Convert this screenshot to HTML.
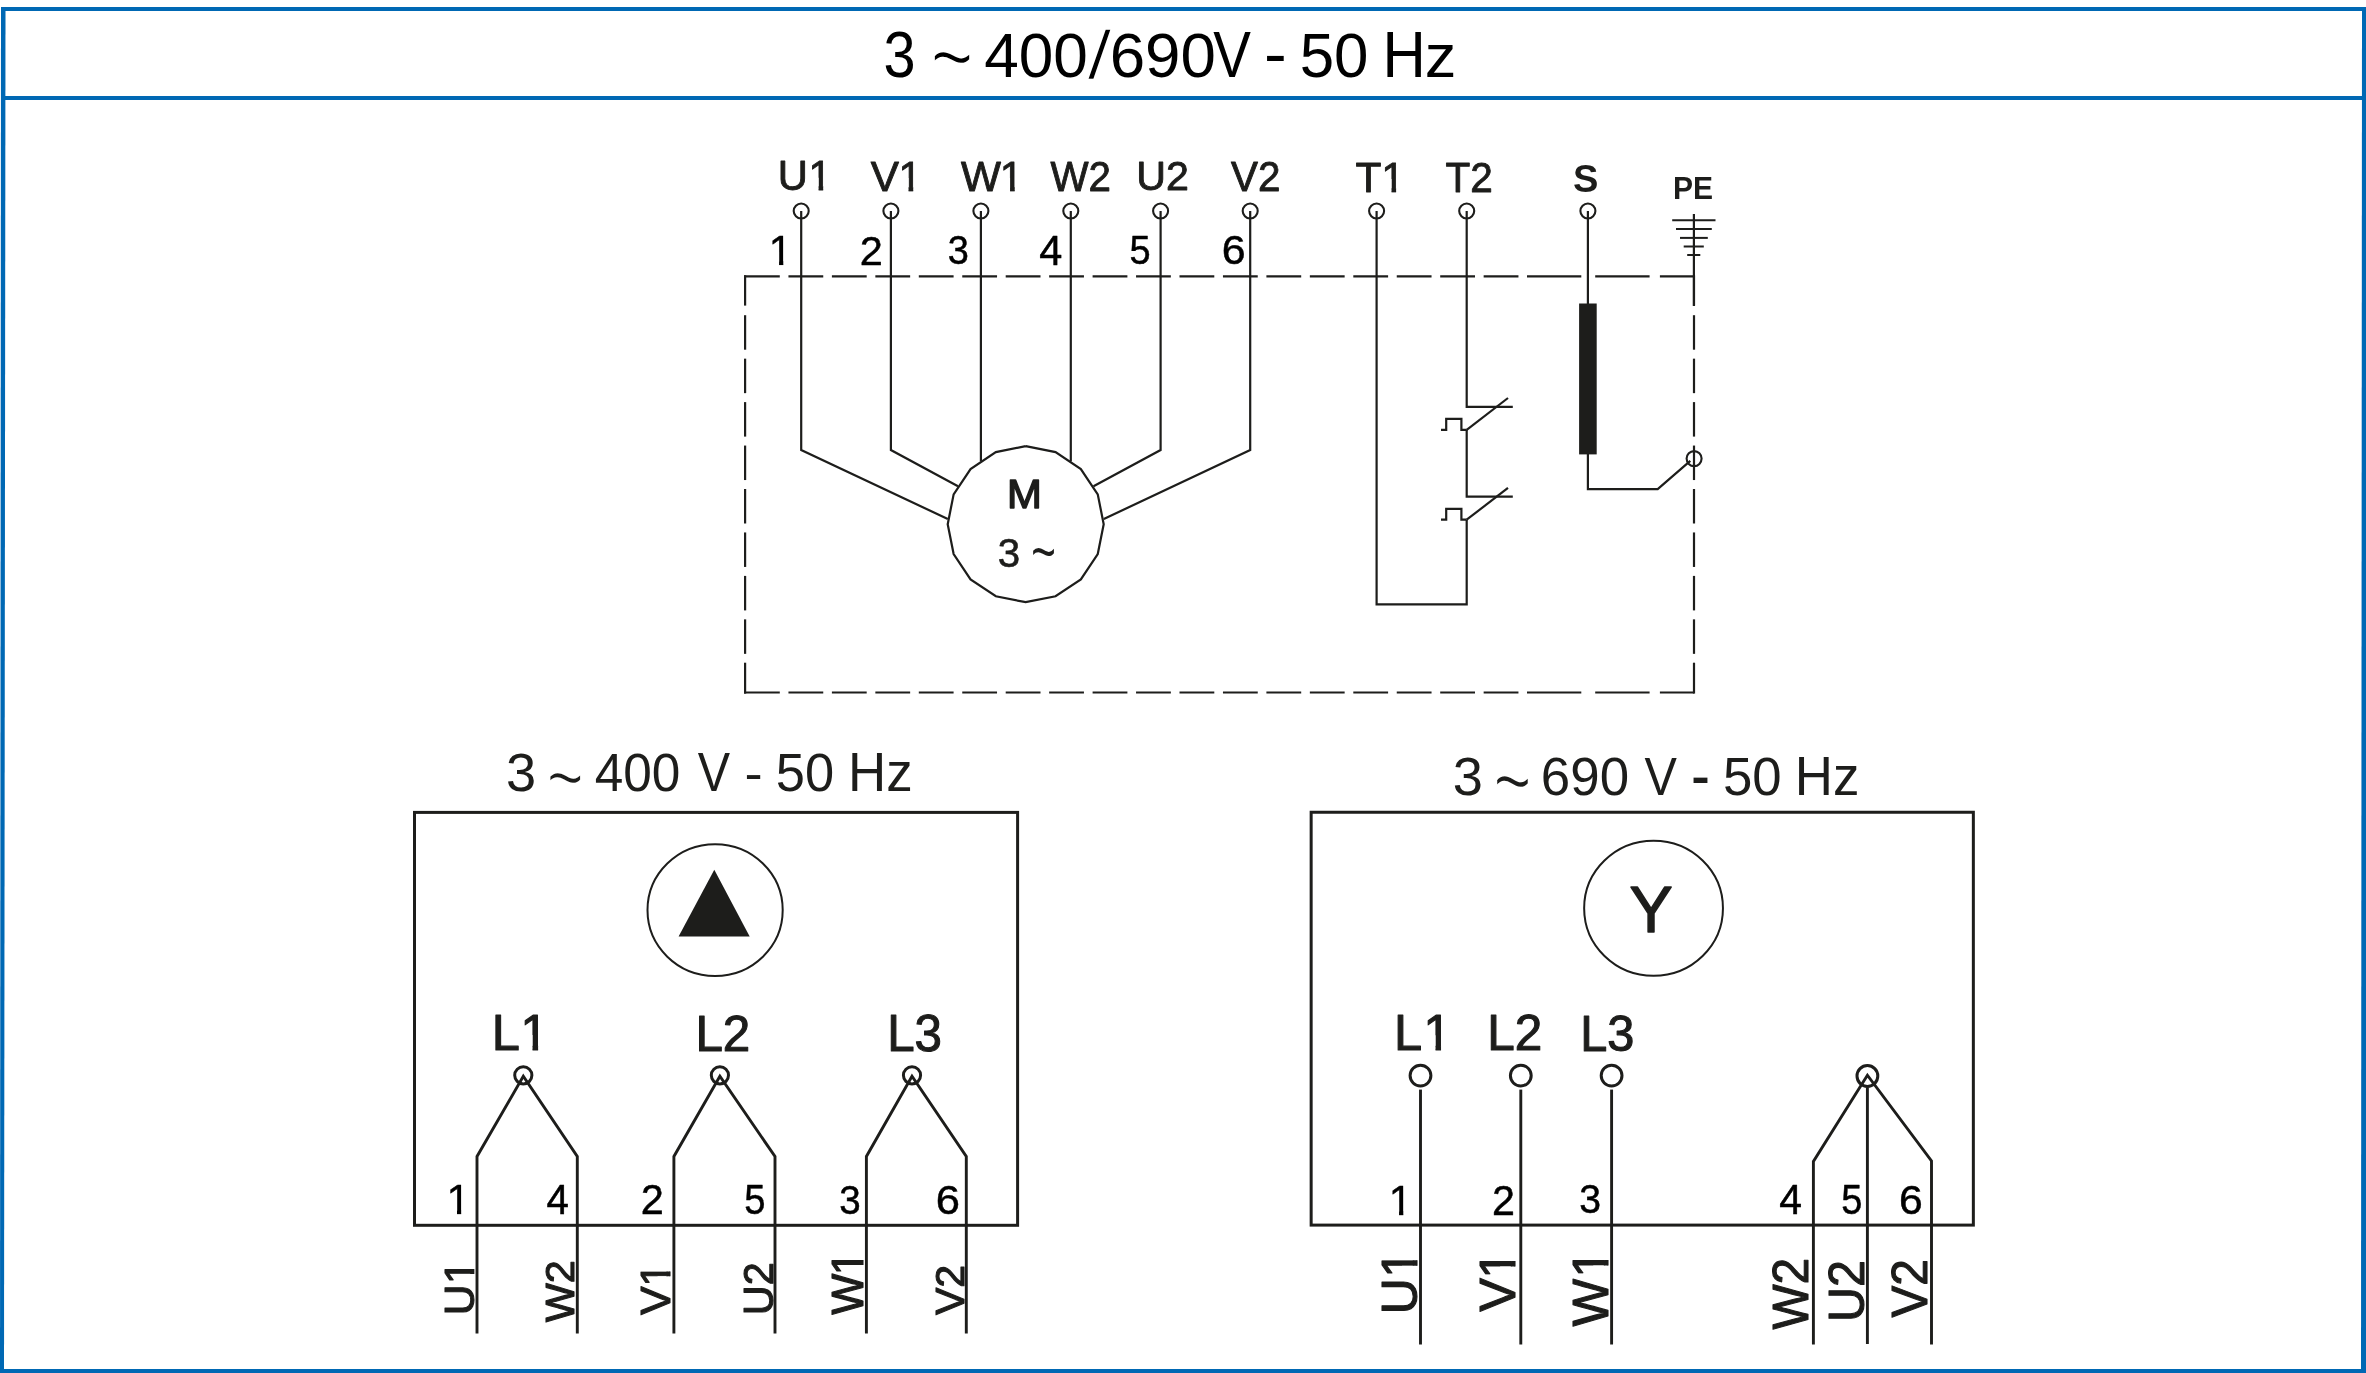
<!DOCTYPE html>
<html><head><meta charset="utf-8"><title>Wiring diagram 3~400/690V 50Hz</title>
<style>html,body{margin:0;padding:0;background:#fff;width:2366px;height:1373px;overflow:hidden}svg{display:block;will-change:transform}text{font-family:"Liberation Sans",sans-serif}</style>
</head><body>
<svg width="2366" height="1373" viewBox="0 0 2366 1373">
<defs><clipPath id="c1"><rect x="37.76" y="-31.28" width="4.59" height="32.28"/><rect x="30.74" y="-31.28" width="11.61" height="18.77"/></clipPath><clipPath id="c2"><rect x="37.51" y="-31.72" width="4.64" height="32.72"/><rect x="30.39" y="-31.72" width="11.76" height="19.03"/></clipPath><clipPath id="c3"><rect x="48.91" y="-31.72" width="4.64" height="32.72"/><rect x="41.79" y="-31.72" width="11.76" height="19.03"/></clipPath><clipPath id="c4"><rect x="35.10" y="-31.83" width="4.65" height="32.83"/><rect x="27.96" y="-31.83" width="11.79" height="19.10"/></clipPath><clipPath id="c5"><rect x="6.12" y="-31.61" width="4.23" height="32.61"/><rect x="-1.17" y="-31.61" width="11.52" height="18.97"/></clipPath><clipPath id="c6"><rect x="36.58" y="-37.94" width="5.57" height="38.94"/><rect x="28.28" y="-37.94" width="13.87" height="22.76"/></clipPath><clipPath id="c7"><rect x="7.43" y="-32.38" width="4.32" height="33.38"/><rect x="-0.02" y="-32.38" width="11.77" height="19.43"/></clipPath><clipPath id="c8"><rect x="37.99" y="-31.92" width="4.86" height="32.92"/><rect x="30.93" y="-31.92" width="11.92" height="19.15"/></clipPath><clipPath id="c9"><rect x="38.56" y="-32.16" width="4.89" height="33.16"/><rect x="31.45" y="-32.16" width="12.00" height="19.30"/></clipPath><clipPath id="c10"><rect x="49.61" y="-32.59" width="4.94" height="33.59"/><rect x="42.41" y="-32.59" width="12.14" height="19.56"/></clipPath><clipPath id="c11"><rect x="37.28" y="-37.94" width="5.57" height="38.94"/><rect x="28.98" y="-37.94" width="13.87" height="22.76"/></clipPath><clipPath id="c12"><rect x="5.80" y="-31.83" width="4.25" height="32.83"/><rect x="-1.54" y="-31.83" width="11.59" height="19.10"/></clipPath><clipPath id="c13"><rect x="44.53" y="-37.51" width="5.52" height="38.51"/><rect x="36.31" y="-37.51" width="13.74" height="22.51"/></clipPath><clipPath id="c14"><rect x="44.97" y="-38.05" width="5.58" height="39.05"/><rect x="36.64" y="-38.05" width="13.91" height="22.83"/></clipPath><clipPath id="c15"><rect x="60.68" y="-37.94" width="5.57" height="38.94"/><rect x="52.38" y="-37.94" width="13.87" height="22.76"/></clipPath></defs>
<g fill="#0068b4" stroke="none">
<rect x="1" y="7" width="2365" height="4"/>
<rect x="1" y="96" width="2365" height="4"/>
<rect x="0" y="1369" width="2366" height="4"/>
<polygon points="1,7 5.5,7 4,1373 0,1373"/>
<polygon points="2362,7 2366,7 2366,1373 2361,1373"/>
</g>
<g stroke="#1d1d1b" fill="none" stroke-linecap="butt" stroke-linejoin="miter" font-family="Liberation Sans, sans-serif">
<circle cx="801.20" cy="211.00" r="7.50" fill="none" stroke-width="2.1"/>
<circle cx="890.90" cy="211.00" r="7.50" fill="none" stroke-width="2.1"/>
<circle cx="980.90" cy="211.00" r="7.50" fill="none" stroke-width="2.1"/>
<circle cx="1070.80" cy="211.00" r="7.50" fill="none" stroke-width="2.1"/>
<circle cx="1160.60" cy="211.00" r="7.50" fill="none" stroke-width="2.1"/>
<circle cx="1250.20" cy="211.00" r="7.50" fill="none" stroke-width="2.1"/>
<circle cx="1376.60" cy="211.00" r="7.50" fill="none" stroke-width="2.1"/>
<circle cx="1466.70" cy="211.00" r="7.50" fill="none" stroke-width="2.1"/>
<circle cx="1587.90" cy="211.00" r="7.50" fill="none" stroke-width="2.1"/>
<polyline points="1025.70,446.20 1055.55,452.14 1080.85,469.05 1097.76,494.35 1103.70,524.20 1097.76,554.05 1080.85,579.35 1055.55,596.26 1025.70,602.20 995.85,596.26 970.55,579.35 953.64,554.05 947.70,524.20 953.64,494.35 970.55,469.05 995.85,452.14 1025.70,446.20" fill="none" stroke-width="2.2"/>
<polyline points="801.20,211.00 801.20,450.00 947.80,519.00" fill="none" stroke-width="2.2"/>
<polyline points="890.90,211.00 890.90,450.00 958.00,486.30" fill="none" stroke-width="2.2"/>
<line x1="980.90" y1="211.00" x2="980.90" y2="461.20" stroke-width="2.2"/>
<line x1="1070.80" y1="211.00" x2="1070.80" y2="461.40" stroke-width="2.2"/>
<polyline points="1160.60,211.00 1160.60,450.00 1093.50,486.30" fill="none" stroke-width="2.2"/>
<polyline points="1250.20,211.00 1250.20,450.00 1103.80,519.00" fill="none" stroke-width="2.2"/>
<polyline points="1466.70,211.00 1466.70,406.90 1512.80,406.90" fill="none" stroke-width="2.2"/>
<polyline points="1466.70,429.80 1466.70,496.70 1512.80,496.70" fill="none" stroke-width="2.2"/>
<polyline points="1466.70,519.70 1466.70,604.30 1376.60,604.30 1376.60,211.00" fill="none" stroke-width="2.2"/>
<line x1="1466.70" y1="429.80" x2="1508.00" y2="398.00" stroke-width="2.2"/>
<polyline points="1441.00,429.80 1446.20,429.80 1446.20,418.90 1461.40,418.90 1461.40,429.80 1466.70,429.80" fill="none" stroke-width="2.2"/>
<line x1="1466.70" y1="519.70" x2="1508.00" y2="487.90" stroke-width="2.2"/>
<polyline points="1441.00,519.70 1446.20,519.70 1446.20,508.80 1461.40,508.80 1461.40,519.70 1466.70,519.70" fill="none" stroke-width="2.2"/>
<line x1="1587.90" y1="211.00" x2="1587.90" y2="304.00" stroke-width="2.2"/>
<rect x="1579.1" y="303.5" width="17.6" height="150.9" fill="#1d1d1b" stroke="none"/>
<polyline points="1587.90,454.00 1587.90,489.10 1657.70,489.10 1690.30,460.80" fill="none" stroke-width="2.2"/>
<circle cx="1694.10" cy="458.60" r="7.50" fill="none" stroke-width="2.1"/>
<line x1="1693.90" y1="214.00" x2="1693.90" y2="306.00" stroke-width="2.2"/>
<line x1="1672.20" y1="220.20" x2="1715.50" y2="220.20" stroke-width="2.0"/>
<line x1="1676.00" y1="228.90" x2="1711.80" y2="228.90" stroke-width="2.0"/>
<line x1="1680.00" y1="237.90" x2="1707.80" y2="237.90" stroke-width="2.0"/>
<line x1="1683.70" y1="246.50" x2="1703.80" y2="246.50" stroke-width="2.0"/>
<line x1="1687.20" y1="255.00" x2="1700.30" y2="255.00" stroke-width="2.0"/>
<line x1="744.00" y1="276.40" x2="779.80" y2="276.40" stroke-width="2.2"/>
<line x1="788.45" y1="276.40" x2="823.25" y2="276.40" stroke-width="2.2"/>
<line x1="831.90" y1="276.40" x2="866.70" y2="276.40" stroke-width="2.2"/>
<line x1="875.35" y1="276.40" x2="910.15" y2="276.40" stroke-width="2.2"/>
<line x1="918.80" y1="276.40" x2="953.60" y2="276.40" stroke-width="2.2"/>
<line x1="962.25" y1="276.40" x2="997.05" y2="276.40" stroke-width="2.2"/>
<line x1="1005.70" y1="276.40" x2="1040.50" y2="276.40" stroke-width="2.2"/>
<line x1="1049.15" y1="276.40" x2="1083.95" y2="276.40" stroke-width="2.2"/>
<line x1="1092.60" y1="276.40" x2="1127.40" y2="276.40" stroke-width="2.2"/>
<line x1="1136.05" y1="276.40" x2="1170.85" y2="276.40" stroke-width="2.2"/>
<line x1="1179.50" y1="276.40" x2="1214.30" y2="276.40" stroke-width="2.2"/>
<line x1="1222.95" y1="276.40" x2="1257.75" y2="276.40" stroke-width="2.2"/>
<line x1="1266.40" y1="276.40" x2="1301.20" y2="276.40" stroke-width="2.2"/>
<line x1="1309.85" y1="276.40" x2="1344.65" y2="276.40" stroke-width="2.2"/>
<line x1="1353.30" y1="276.40" x2="1388.10" y2="276.40" stroke-width="2.2"/>
<line x1="1396.75" y1="276.40" x2="1431.55" y2="276.40" stroke-width="2.2"/>
<line x1="1440.20" y1="276.40" x2="1475.00" y2="276.40" stroke-width="2.2"/>
<line x1="1483.65" y1="276.40" x2="1518.45" y2="276.40" stroke-width="2.2"/>
<line x1="1527.00" y1="276.40" x2="1581.30" y2="276.40" stroke-width="2.2"/>
<line x1="1595.20" y1="276.40" x2="1649.60" y2="276.40" stroke-width="2.2"/>
<line x1="1659.90" y1="276.40" x2="1694.00" y2="276.40" stroke-width="2.2"/>
<line x1="744.00" y1="692.50" x2="779.80" y2="692.50" stroke-width="2.2"/>
<line x1="788.45" y1="692.50" x2="823.25" y2="692.50" stroke-width="2.2"/>
<line x1="831.90" y1="692.50" x2="866.70" y2="692.50" stroke-width="2.2"/>
<line x1="875.35" y1="692.50" x2="910.15" y2="692.50" stroke-width="2.2"/>
<line x1="918.80" y1="692.50" x2="953.60" y2="692.50" stroke-width="2.2"/>
<line x1="962.25" y1="692.50" x2="997.05" y2="692.50" stroke-width="2.2"/>
<line x1="1005.70" y1="692.50" x2="1040.50" y2="692.50" stroke-width="2.2"/>
<line x1="1049.15" y1="692.50" x2="1083.95" y2="692.50" stroke-width="2.2"/>
<line x1="1092.60" y1="692.50" x2="1127.40" y2="692.50" stroke-width="2.2"/>
<line x1="1136.05" y1="692.50" x2="1170.85" y2="692.50" stroke-width="2.2"/>
<line x1="1179.50" y1="692.50" x2="1214.30" y2="692.50" stroke-width="2.2"/>
<line x1="1222.95" y1="692.50" x2="1257.75" y2="692.50" stroke-width="2.2"/>
<line x1="1266.40" y1="692.50" x2="1301.20" y2="692.50" stroke-width="2.2"/>
<line x1="1309.85" y1="692.50" x2="1344.65" y2="692.50" stroke-width="2.2"/>
<line x1="1353.30" y1="692.50" x2="1388.10" y2="692.50" stroke-width="2.2"/>
<line x1="1396.75" y1="692.50" x2="1431.55" y2="692.50" stroke-width="2.2"/>
<line x1="1440.20" y1="692.50" x2="1475.00" y2="692.50" stroke-width="2.2"/>
<line x1="1483.65" y1="692.50" x2="1518.45" y2="692.50" stroke-width="2.2"/>
<line x1="1527.00" y1="692.50" x2="1581.30" y2="692.50" stroke-width="2.2"/>
<line x1="1595.20" y1="692.50" x2="1649.60" y2="692.50" stroke-width="2.2"/>
<line x1="1659.90" y1="692.50" x2="1694.00" y2="692.50" stroke-width="2.2"/>
<line x1="745.10" y1="275.30" x2="745.10" y2="305.60" stroke-width="2.2"/>
<line x1="745.10" y1="315.20" x2="745.10" y2="349.70" stroke-width="2.2"/>
<line x1="745.10" y1="358.65" x2="745.10" y2="393.15" stroke-width="2.2"/>
<line x1="745.10" y1="402.10" x2="745.10" y2="436.60" stroke-width="2.2"/>
<line x1="745.10" y1="445.55" x2="745.10" y2="480.05" stroke-width="2.2"/>
<line x1="745.10" y1="489.00" x2="745.10" y2="523.50" stroke-width="2.2"/>
<line x1="745.10" y1="532.45" x2="745.10" y2="566.95" stroke-width="2.2"/>
<line x1="745.10" y1="575.90" x2="745.10" y2="610.40" stroke-width="2.2"/>
<line x1="745.10" y1="619.35" x2="745.10" y2="653.85" stroke-width="2.2"/>
<line x1="745.10" y1="662.70" x2="745.10" y2="693.60" stroke-width="2.2"/>
<line x1="1694.00" y1="275.30" x2="1694.00" y2="305.60" stroke-width="2.2"/>
<line x1="1694.00" y1="315.20" x2="1694.00" y2="349.70" stroke-width="2.2"/>
<line x1="1694.00" y1="358.65" x2="1694.00" y2="393.15" stroke-width="2.2"/>
<line x1="1694.00" y1="402.10" x2="1694.00" y2="436.60" stroke-width="2.2"/>
<line x1="1694.00" y1="445.55" x2="1694.00" y2="480.05" stroke-width="2.2"/>
<line x1="1694.00" y1="489.00" x2="1694.00" y2="523.50" stroke-width="2.2"/>
<line x1="1694.00" y1="532.45" x2="1694.00" y2="566.95" stroke-width="2.2"/>
<line x1="1694.00" y1="575.90" x2="1694.00" y2="610.40" stroke-width="2.2"/>
<line x1="1694.00" y1="619.35" x2="1694.00" y2="653.85" stroke-width="2.2"/>
<line x1="1694.00" y1="662.70" x2="1694.00" y2="693.60" stroke-width="2.2"/>
<g transform="translate(780.85,190.24)"><text x="-3.22" y="0.00" font-size="41.70" font-weight="normal" fill="#1d1d1b" stroke="#1d1d1b" stroke-width="0.9" stroke-linejoin="round">U</text><text x="27.73" y="0.00" font-size="41.70" font-weight="normal" fill="#1d1d1b" stroke="#1d1d1b" stroke-width="0.9" stroke-linejoin="round" clip-path="url(#c1)">1</text></g>
<g transform="translate(871.05,190.65)"><text x="-0.19" y="0.00" font-size="42.30" font-weight="normal" fill="#1d1d1b" stroke="#1d1d1b" stroke-width="0.9" stroke-linejoin="round">V</text><text x="27.33" y="0.00" font-size="42.30" font-weight="normal" fill="#1d1d1b" stroke="#1d1d1b" stroke-width="0.9" stroke-linejoin="round" clip-path="url(#c2)">1</text></g>
<g transform="translate(961.15,190.65)"><text x="-0.19" y="0.00" font-size="42.30" font-weight="normal" fill="#1d1d1b" stroke="#1d1d1b" stroke-width="0.9" stroke-linejoin="round">W</text><text x="38.73" y="0.00" font-size="42.30" font-weight="normal" fill="#1d1d1b" stroke="#1d1d1b" stroke-width="0.9" stroke-linejoin="round" clip-path="url(#c3)">1</text></g>
<g transform="translate(1050.65,190.65) scale(0.9679,1)"><text x="-0.18" y="0.00" font-size="41.68" font-weight="normal" fill="#1d1d1b" stroke="#1d1d1b" stroke-width="0.9" stroke-linejoin="round">W2</text></g>
<g transform="translate(1139.45,190.25) scale(1.0021,1)"><text x="-3.17" y="0.00" font-size="41.10" font-weight="normal" fill="#1d1d1b" stroke="#1d1d1b" stroke-width="0.9" stroke-linejoin="round">U2</text></g>
<g transform="translate(1231.15,190.65) scale(0.9693,1)"><text x="-0.18" y="0.00" font-size="41.68" font-weight="normal" fill="#1d1d1b" stroke="#1d1d1b" stroke-width="0.9" stroke-linejoin="round">V2</text></g>
<g transform="translate(1356.45,191.65)"><text x="-0.95" y="0.00" font-size="42.44" font-weight="normal" fill="#1d1d1b" stroke="#1d1d1b" stroke-width="0.9" stroke-linejoin="round">T</text><text x="24.88" y="0.00" font-size="42.44" font-weight="normal" fill="#1d1d1b" stroke="#1d1d1b" stroke-width="0.9" stroke-linejoin="round" clip-path="url(#c4)">1</text></g>
<g transform="translate(1446.45,191.65) scale(0.9703,1)"><text x="-0.94" y="0.00" font-size="41.82" font-weight="normal" fill="#1d1d1b" stroke="#1d1d1b" stroke-width="0.9" stroke-linejoin="round">T2</text></g>
<g transform="translate(1574.20,191.71) scale(0.9623,1)"><text x="-1.14" y="0.00" font-size="39.55" font-weight="bold" fill="#1d1d1b" stroke="none">S</text></g>
<g transform="translate(1674.90,199.00) scale(0.9527,1)"><text x="-2.11" y="0.00" font-size="31.54" font-weight="bold" fill="#1d1d1b" stroke="none">PE</text></g>
<g transform="translate(772.95,264.55)"><text x="-4.22" y="0.00" font-size="42.15" font-weight="normal" fill="#000000" stroke="#000000" stroke-width="0.5" stroke-linejoin="round" clip-path="url(#c5)">1</text></g>
<g transform="translate(861.75,264.55) scale(0.9989,1)"><text x="-2.09" y="0.00" font-size="41.53" font-weight="normal" fill="#000000" stroke="#000000" stroke-width="0.5" stroke-linejoin="round">2</text></g>
<g transform="translate(949.15,264.15) scale(0.9269,1)"><text x="-1.56" y="0.00" font-size="40.96" font-weight="normal" fill="#000000" stroke="#000000" stroke-width="0.5" stroke-linejoin="round">3</text></g>
<g transform="translate(1040.15,264.55) scale(0.9840,1)"><text x="-0.97" y="0.00" font-size="42.15" font-weight="normal" fill="#000000" stroke="#000000" stroke-width="0.5" stroke-linejoin="round">4</text></g>
<g transform="translate(1131.05,264.14) scale(0.9135,1)"><text x="-1.66" y="0.00" font-size="41.56" font-weight="normal" fill="#000000" stroke="#000000" stroke-width="0.5" stroke-linejoin="round">5</text></g>
<g transform="translate(1223.95,264.15) scale(1.0476,1)"><text x="-2.08" y="0.00" font-size="40.96" font-weight="normal" fill="#000000" stroke="#000000" stroke-width="0.5" stroke-linejoin="round">6</text></g>
<g transform="translate(1010.55,508.35) scale(1.0140,1)"><text x="-3.39" y="0.00" font-size="41.28" font-weight="normal" fill="#1d1d1b" stroke="#1d1d1b" stroke-width="1.5" stroke-linejoin="round">M</text></g>
<g transform="translate(999.30,567.20) scale(0.9768,1)"><text x="-1.57" y="0.00" font-size="41.24" font-weight="normal" fill="#1d1d1b" stroke="#1d1d1b" stroke-width="0.6" stroke-linejoin="round">3</text></g>
<g transform="translate(1033.10,556.90) scale(0.9789,1.4251)"><text x="-1.93" y="11.61" font-size="43.00" fill="#1d1d1b" stroke="#fff" stroke-width="0.0" vector-effect="non-scaling-stroke">~</text></g>
<g transform="translate(885.80,77.47) scale(0.8980,1)"><text x="-2.44" y="0.00" font-size="64.12" font-weight="normal" fill="#000000" stroke="none">3</text></g>
<g transform="translate(933.90,64.10) scale(1.1383,1.5622)"><text x="-2.88" y="17.28" font-size="64.00" fill="#000000" stroke="#fff" stroke-width="2.0" vector-effect="non-scaling-stroke">~</text></g>
<g transform="translate(985.60,77.28) scale(0.9741,1)"><text x="-1.47" y="0.00" font-size="63.84" font-weight="normal" fill="#000000" stroke="none">400</text></g>
<g transform="translate(1087.20,79.24) scale(1.2899,1)"><text x="-0.00" y="0" font-size="68.09" fill="#000000" stroke="#fff" stroke-width="1.8" vector-effect="non-scaling-stroke">/</text></g>
<g transform="translate(1112.90,77.18) scale(1.0039,1)"><text x="-3.22" y="0.00" font-size="63.42" font-weight="normal" fill="#000000" stroke="none">690</text></g>
<g transform="translate(1213.40,77.10) scale(0.8603,1)"><text x="-0.29" y="0.00" font-size="65.70" font-weight="normal" fill="#000000" stroke="none">V</text></g>
<g transform="translate(1267.10,75.60) scale(1.0688,1)"><text x="-2.84" y="0.00" font-size="64.00" font-weight="normal" fill="#000000" stroke="none">-</text></g>
<g transform="translate(1302.10,77.48) scale(0.9752,1)"><text x="-2.54" y="0.00" font-size="63.42" font-weight="normal" fill="#000000" stroke="none">50</text></g>
<g transform="translate(1387.30,77.10) scale(0.9128,1)"><text x="-5.39" y="0.00" font-size="65.70" font-weight="normal" fill="#000000" stroke="none">H</text></g>
<g transform="translate(1427.20,77.00) scale(1.0471,1)"><text x="-2.45" y="0.00" font-size="60.38" font-weight="normal" fill="#000000" stroke="none">z</text></g>
<rect x="414.5" y="812.4" width="603.1" height="412.9" fill="none" stroke-width="3.0"/>
<g transform="translate(508.00,791.47) scale(1.0073,1)"><text x="-2.05" y="0.00" font-size="53.81" font-weight="normal" fill="#1d1d1b" stroke="none">3</text></g>
<g transform="translate(549.60,784.20) scale(1.1517,1.7299)"><text x="-2.47" y="14.85" font-size="55.00" fill="#1d1d1b" stroke="#fff" stroke-width="2.0" vector-effect="non-scaling-stroke">~</text></g>
<g transform="translate(595.90,791.07) scale(0.9543,1)"><text x="-1.23" y="0.00" font-size="53.81" font-weight="normal" fill="#1d1d1b" stroke="none">400</text></g>
<g transform="translate(698.00,790.90) scale(0.8798,1)"><text x="-0.24" y="0.00" font-size="55.09" font-weight="normal" fill="#1d1d1b" stroke="none">V</text></g>
<g transform="translate(746.80,790.41) scale(1.0913,1)"><text x="-2.22" y="0.00" font-size="49.92" font-weight="normal" fill="#1d1d1b" stroke="none">-</text></g>
<g transform="translate(777.80,791.07) scale(0.9748,1)"><text x="-2.15" y="0.00" font-size="53.81" font-weight="normal" fill="#1d1d1b" stroke="none">50</text></g>
<g transform="translate(852.40,790.90) scale(0.9606,1)"><text x="-4.52" y="0.00" font-size="55.09" font-weight="normal" fill="#1d1d1b" stroke="none">Hz</text></g>
<ellipse cx="715.1" cy="910.1" rx="67.6" ry="65.9" fill="none" stroke-width="2.0"/>
<polygon points="714.3,869.8 678.6,936.6 749.7,936.6" fill="#1d1d1b" stroke="none"/>
<polyline points="477.00,1333.50 477.00,1156.50 523.30,1076.30 577.30,1156.50 577.30,1333.50" fill="none" stroke-width="2.9"/>
<circle cx="523.30" cy="1075.30" r="8.60" fill="none" stroke-width="3.0"/>
<polyline points="673.90,1333.50 673.90,1156.50 719.90,1076.30 775.00,1156.50 775.00,1333.50" fill="none" stroke-width="2.9"/>
<circle cx="719.90" cy="1075.30" r="8.60" fill="none" stroke-width="3.0"/>
<polyline points="866.40,1333.50 866.40,1156.50 912.00,1076.30 966.30,1156.50 966.30,1333.50" fill="none" stroke-width="2.9"/>
<circle cx="912.00" cy="1075.30" r="8.60" fill="none" stroke-width="3.0"/>
<g transform="translate(495.95,1050.25)"><text x="-4.15" y="0.00" font-size="50.58" font-weight="normal" fill="#1d1d1b" stroke="#1d1d1b" stroke-width="1.1" stroke-linejoin="round">L</text><text x="24.41" y="0.00" font-size="50.58" font-weight="normal" fill="#1d1d1b" stroke="#1d1d1b" stroke-width="1.1" stroke-linejoin="round" clip-path="url(#c6)">1</text></g>
<g transform="translate(699.45,1050.55) scale(0.9797,1)"><text x="-4.14" y="0.00" font-size="50.41" font-weight="normal" fill="#1d1d1b" stroke="#1d1d1b" stroke-width="1.1" stroke-linejoin="round">L2</text></g>
<g transform="translate(891.25,1051.05) scale(0.9637,1)"><text x="-4.19" y="0.00" font-size="51.13" font-weight="normal" fill="#1d1d1b" stroke="#1d1d1b" stroke-width="1.1" stroke-linejoin="round">L3</text></g>
<g transform="translate(449.55,1213.85)"><text x="-3.17" y="0.00" font-size="43.17" font-weight="normal" fill="#000000" stroke="#000000" stroke-width="0.5" stroke-linejoin="round" clip-path="url(#c7)">1</text></g>
<g transform="translate(547.35,1213.85) scale(0.9332,1)"><text x="-0.99" y="0.00" font-size="43.17" font-weight="normal" fill="#000000" stroke="#000000" stroke-width="0.5" stroke-linejoin="round">4</text></g>
<g transform="translate(642.85,1214.35) scale(0.9786,1)"><text x="-2.13" y="0.00" font-size="42.39" font-weight="normal" fill="#000000" stroke="#000000" stroke-width="0.5" stroke-linejoin="round">2</text></g>
<g transform="translate(745.65,1213.94) scale(0.8999,1)"><text x="-1.70" y="0.00" font-size="42.42" font-weight="normal" fill="#000000" stroke="#000000" stroke-width="0.5" stroke-linejoin="round">5</text></g>
<g transform="translate(840.65,1214.24) scale(0.9295,1)"><text x="-1.58" y="0.00" font-size="41.52" font-weight="normal" fill="#000000" stroke="#000000" stroke-width="0.5" stroke-linejoin="round">3</text></g>
<g transform="translate(938.05,1214.24) scale(1.0490,1)"><text x="-2.11" y="0.00" font-size="41.52" font-weight="normal" fill="#000000" stroke="#000000" stroke-width="0.5" stroke-linejoin="round">6</text></g>
<g transform="translate(473.83,1311.95) rotate(-90)"><text x="-3.28" y="0.00" font-size="42.56" font-weight="normal" fill="#1d1d1b" stroke="#1d1d1b" stroke-width="1.1" stroke-linejoin="round">U</text><text x="27.83" y="0.00" font-size="42.56" font-weight="normal" fill="#1d1d1b" stroke="#1d1d1b" stroke-width="1.1" stroke-linejoin="round" clip-path="url(#c8)">1</text></g>
<g transform="translate(574.35,1322.15) rotate(-90) scale(0.9996,1)"><text x="-0.18" y="0.00" font-size="41.39" font-weight="normal" fill="#1d1d1b" stroke="#1d1d1b" stroke-width="1.1" stroke-linejoin="round">W2</text></g>
<g transform="translate(670.45,1314.85) rotate(-90)"><text x="-0.19" y="0.00" font-size="42.88" font-weight="normal" fill="#1d1d1b" stroke="#1d1d1b" stroke-width="1.1" stroke-linejoin="round">V</text><text x="28.33" y="0.00" font-size="42.88" font-weight="normal" fill="#1d1d1b" stroke="#1d1d1b" stroke-width="1.1" stroke-linejoin="round" clip-path="url(#c9)">1</text></g>
<g transform="translate(773.24,1311.95) rotate(-90) scale(0.9814,1)"><text x="-3.26" y="0.00" font-size="42.23" font-weight="normal" fill="#1d1d1b" stroke="#1d1d1b" stroke-width="1.1" stroke-linejoin="round">U2</text></g>
<g transform="translate(863.45,1314.55) rotate(-90)"><text x="-0.19" y="0.00" font-size="43.46" font-weight="normal" fill="#1d1d1b" stroke="#1d1d1b" stroke-width="1.1" stroke-linejoin="round">W</text><text x="39.23" y="0.00" font-size="43.46" font-weight="normal" fill="#1d1d1b" stroke="#1d1d1b" stroke-width="1.1" stroke-linejoin="round" clip-path="url(#c10)">1</text></g>
<g transform="translate(964.45,1314.85) rotate(-90) scale(1.0100,1)"><text x="-0.18" y="0.00" font-size="40.67" font-weight="normal" fill="#1d1d1b" stroke="#1d1d1b" stroke-width="1.1" stroke-linejoin="round">V2</text></g>
<rect x="1311.15" y="812.25" width="662.2" height="412.85" fill="none" stroke-width="3.0"/>
<g transform="translate(1454.80,795.28) scale(1.0153,1)"><text x="-2.03" y="0.00" font-size="53.39" font-weight="normal" fill="#1d1d1b" stroke="none">3</text></g>
<g transform="translate(1496.40,788.30) scale(1.1811,1.8618)"><text x="-2.47" y="14.85" font-size="55.00" fill="#1d1d1b" stroke="#fff" stroke-width="2.0" vector-effect="non-scaling-stroke">~</text></g>
<g transform="translate(1543.50,795.07) scale(0.9829,1)"><text x="-2.73" y="0.00" font-size="53.81" font-weight="normal" fill="#1d1d1b" stroke="none">690</text></g>
<g transform="translate(1644.70,794.60) scale(0.8919,1)"><text x="-0.24" y="0.00" font-size="54.51" font-weight="normal" fill="#1d1d1b" stroke="none">V</text></g>
<g transform="translate(1693.50,799.06) scale(0.8237,1)"><text x="-3.07" y="0.00" font-size="69.12" font-weight="normal" fill="#1d1d1b" stroke="none">-</text></g>
<g transform="translate(1725.10,795.07) scale(0.9802,1)"><text x="-2.15" y="0.00" font-size="53.81" font-weight="normal" fill="#1d1d1b" stroke="none">50</text></g>
<g transform="translate(1799.20,794.70) scale(0.9683,1)"><text x="-4.48" y="0.00" font-size="54.65" font-weight="normal" fill="#1d1d1b" stroke="none">Hz</text></g>
<ellipse cx="1653.55" cy="908.25" rx="69.4" ry="67.5" fill="none" stroke-width="2.0"/>
<g transform="translate(1630.90,932.40) scale(1.0114,1)"><text x="-1.41" y="0.00" font-size="63.95" font-weight="normal" fill="#1d1d1b" stroke="#1d1d1b" stroke-width="1.4" stroke-linejoin="round">Y</text></g>
<circle cx="1420.50" cy="1075.60" r="10.40" fill="none" stroke-width="3.0"/>
<line x1="1420.50" y1="1089.60" x2="1420.50" y2="1344.50" stroke-width="2.9"/>
<circle cx="1520.80" cy="1075.60" r="10.40" fill="none" stroke-width="3.0"/>
<line x1="1520.80" y1="1089.60" x2="1520.80" y2="1344.50" stroke-width="2.9"/>
<circle cx="1611.60" cy="1075.60" r="10.40" fill="none" stroke-width="3.0"/>
<line x1="1611.60" y1="1089.60" x2="1611.60" y2="1344.50" stroke-width="2.9"/>
<circle cx="1867.40" cy="1076.00" r="10.40" fill="none" stroke-width="3.0"/>
<polyline points="1813.40,1344.50 1813.40,1161.50 1867.40,1075.20 1931.50,1161.00 1931.50,1344.50" fill="none" stroke-width="2.9"/>
<line x1="1867.40" y1="1087.50" x2="1867.40" y2="1344.00" stroke-width="2.9"/>
<g transform="translate(1398.25,1050.45)"><text x="-4.15" y="0.00" font-size="50.58" font-weight="normal" fill="#1d1d1b" stroke="#1d1d1b" stroke-width="1.1" stroke-linejoin="round">L</text><text x="25.11" y="0.00" font-size="50.58" font-weight="normal" fill="#1d1d1b" stroke="#1d1d1b" stroke-width="1.1" stroke-linejoin="round" clip-path="url(#c11)">1</text></g>
<g transform="translate(1491.25,1050.45) scale(0.9930,1)"><text x="-4.09" y="0.00" font-size="49.84" font-weight="normal" fill="#1d1d1b" stroke="#1d1d1b" stroke-width="1.1" stroke-linejoin="round">L2</text></g>
<g transform="translate(1584.25,1050.56) scale(0.9733,1)"><text x="-4.10" y="0.00" font-size="50.00" font-weight="normal" fill="#1d1d1b" stroke="#1d1d1b" stroke-width="1.1" stroke-linejoin="round">L3</text></g>
<g transform="translate(1393.25,1214.85)"><text x="-4.62" y="0.00" font-size="42.44" font-weight="normal" fill="#000000" stroke="#000000" stroke-width="0.5" stroke-linejoin="round" clip-path="url(#c12)">1</text></g>
<g transform="translate(1493.95,1214.85) scale(0.9868,1)"><text x="-2.10" y="0.00" font-size="41.82" font-weight="normal" fill="#000000" stroke="#000000" stroke-width="0.5" stroke-linejoin="round">2</text></g>
<g transform="translate(1580.75,1213.34) scale(0.9447,1)"><text x="-1.58" y="0.00" font-size="41.52" font-weight="normal" fill="#000000" stroke="#000000" stroke-width="0.5" stroke-linejoin="round">3</text></g>
<g transform="translate(1780.15,1213.65) scale(0.9599,1)"><text x="-0.98" y="0.00" font-size="42.59" font-weight="normal" fill="#000000" stroke="#000000" stroke-width="0.5" stroke-linejoin="round">4</text></g>
<g transform="translate(1842.85,1214.24) scale(0.9041,1)"><text x="-1.68" y="0.00" font-size="41.99" font-weight="normal" fill="#000000" stroke="#000000" stroke-width="0.5" stroke-linejoin="round">5</text></g>
<g transform="translate(1901.25,1214.25) scale(1.0317,1)"><text x="-2.10" y="0.00" font-size="41.38" font-weight="normal" fill="#000000" stroke="#000000" stroke-width="0.5" stroke-linejoin="round">6</text></g>
<g transform="translate(1417.06,1310.35) rotate(-90)"><text x="-3.86" y="0.00" font-size="50.02" font-weight="normal" fill="#1d1d1b" stroke="#1d1d1b" stroke-width="1.1" stroke-linejoin="round">U</text><text x="32.50" y="0.00" font-size="50.02" font-weight="normal" fill="#1d1d1b" stroke="#1d1d1b" stroke-width="1.1" stroke-linejoin="round" clip-path="url(#c13)">1</text></g>
<g transform="translate(1515.35,1311.45) rotate(-90)"><text x="-0.22" y="0.00" font-size="50.73" font-weight="normal" fill="#1d1d1b" stroke="#1d1d1b" stroke-width="1.1" stroke-linejoin="round">V</text><text x="32.76" y="0.00" font-size="50.73" font-weight="normal" fill="#1d1d1b" stroke="#1d1d1b" stroke-width="1.1" stroke-linejoin="round" clip-path="url(#c14)">1</text></g>
<g transform="translate(1608.45,1326.25) rotate(-90)"><text x="-0.22" y="0.00" font-size="50.58" font-weight="normal" fill="#1d1d1b" stroke="#1d1d1b" stroke-width="1.1" stroke-linejoin="round">W</text><text x="48.51" y="0.00" font-size="50.58" font-weight="normal" fill="#1d1d1b" stroke="#1d1d1b" stroke-width="1.1" stroke-linejoin="round" clip-path="url(#c15)">1</text></g>
<g transform="translate(1807.65,1329.35) rotate(-90) scale(0.9620,1)"><text x="-0.22" y="0.00" font-size="49.70" font-weight="normal" fill="#1d1d1b" stroke="#1d1d1b" stroke-width="1.1" stroke-linejoin="round">W2</text></g>
<g transform="translate(1863.77,1318.15) rotate(-90) scale(0.9808,1)"><text x="-3.81" y="0.00" font-size="49.43" font-weight="normal" fill="#1d1d1b" stroke="#1d1d1b" stroke-width="1.1" stroke-linejoin="round">U2</text></g>
<g transform="translate(1927.25,1317.35) rotate(-90) scale(0.9637,1)"><text x="-0.22" y="0.00" font-size="49.55" font-weight="normal" fill="#1d1d1b" stroke="#1d1d1b" stroke-width="1.1" stroke-linejoin="round">V2</text></g>
</g>
</svg>
</body></html>
